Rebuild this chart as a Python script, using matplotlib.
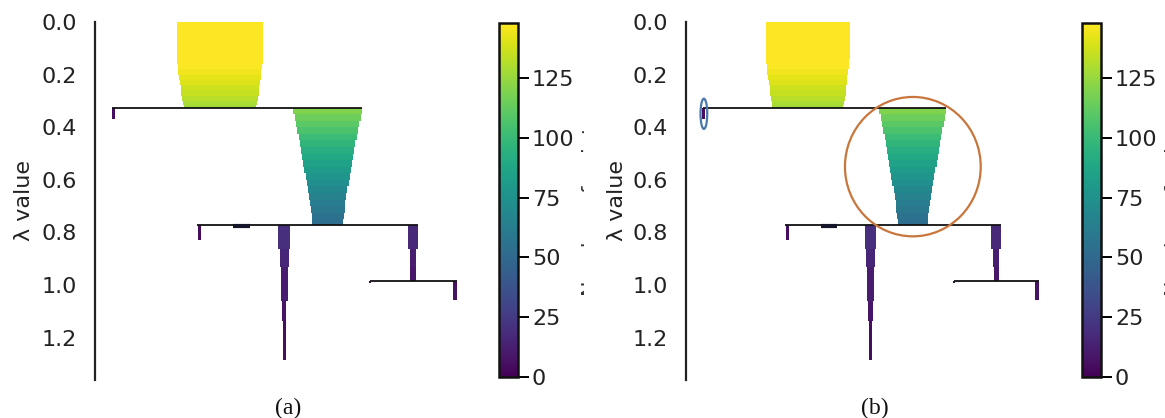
import matplotlib
matplotlib.use("Agg")
import matplotlib.pyplot as plt
import numpy as np
from matplotlib.colors import Normalize
from matplotlib.cm import ScalarMappable
from matplotlib.patches import Ellipse
from matplotlib.transforms import Bbox

# ---------------- data (condensed tree; x in "points" units, lambda on y) ----------------
root_x = 218
root_lam = [0.0, 0.14, 0.16, 0.18, 0.20, 0.22, 0.24, 0.26, 0.28, 0.30, 0.315, 0.328]
root_n = [150, 149, 147, 145, 142, 140, 137, 135, 132, 129, 127]

c1_x = 406
c1_lam = [0.328, 0.35, 0.375, 0.40, 0.425, 0.45, 0.475, 0.50, 0.525, 0.55, 0.575,
          0.60, 0.625, 0.65, 0.675, 0.70, 0.725, 0.75, 0.772]
c1_n = [120, 115, 110, 106, 101, 97, 93, 89, 85, 81, 77, 73, 69, 65, 62, 59, 56, 53]

leaf1_x = 32
leaf1_lam = [0.328, 0.37]
leaf1_n = [5]

leaf2_x = 182
leaf2_lam = [0.772, 0.83]
leaf2_n = [5]

c2_x = 330
c2_lam = [0.772, 0.865, 0.93, 1.06, 1.135, 1.285]
c2_n = [20, 16, 12, 8, 5]

c3_x = 555
c3_lam = [0.772, 0.865, 0.93, 0.985]
c3_n = [17, 12, 9]

leaf3_x = 480
leaf3_lam = [0.985, 0.993]
leaf3_n = [4]

c4_x = 629
c4_lam = [0.985, 1.057]
c4_n = [7]

split_lam = [0.328, 0.772, 0.985]
split_left = [30, 178, 480]
split_right = [466, 564, 632]

stub_x = [241, 271]
stub_lam = 0.776

cbar_ticks = [0, 25, 50, 75, 100, 125]
ytick_vals = [0.0, 0.2, 0.4, 0.6, 0.8, 1.0, 1.2]
n_max = 148

clusters = [(root_x, root_lam, root_n), (c1_x, c1_lam, c1_n),
            (leaf1_x, leaf1_lam, leaf1_n), (leaf2_x, leaf2_lam, leaf2_n),
            (c2_x, c2_lam, c2_n), (c3_x, c3_lam, c3_n),
            (leaf3_x, leaf3_lam, leaf3_n), (c4_x, c4_lam, c4_n)]

# ---------------- figure ----------------
W, H = 1165, 418
fig = plt.figure(figsize=(W / 100, H / 100), dpi=100)
cmap = plt.get_cmap("viridis")
norm = Normalize(vmin=0, vmax=n_max)

Y_TOP, PX_PER_LAM = 22.0, 263.0
LAM_MAX = 1.36
XMAX = 680


def draw_panel(spine_px, px_per_pt, cbar_px, label_px, caption_px, caption, annotate):
    bottom_px = Y_TOP + PX_PER_LAM * LAM_MAX
    ax = fig.add_axes([spine_px / W, (H - bottom_px) / H,
                       XMAX * px_per_pt / W, (bottom_px - Y_TOP) / H])
    for x, lam, n in clusters:
        for i in range(len(n)):
            ax.bar(x, lam[i + 1] - lam[i], bottom=lam[i], width=n[i],
                   color=cmap(norm(n[i])), linewidth=0, align="center", zorder=2)
    for lam, l, r in zip(split_lam, split_left, split_right):
        ax.plot([l, r], [lam, lam], color="#111111", lw=1.3, zorder=3,
                solid_capstyle="butt")
    ax.plot(stub_x, [stub_lam, stub_lam], color="#15152a", lw=3, zorder=3,
            solid_capstyle="butt")
    ax.set_xlim(0, XMAX)
    ax.set_ylim(LAM_MAX, 0)
    for s in ["top", "right", "bottom"]:
        ax.spines[s].set_visible(False)
    ax.spines["left"].set_linewidth(1.6)
    ax.spines["left"].set_color("#222222")
    ax.set_xticks([])
    ax.set_yticks(ytick_vals)
    ax.set_yticklabels([f"{v:.1f}" for v in ytick_vals])
    ax.tick_params(axis="y", length=0, pad=13, labelsize=16, labelcolor="#222222")
    fig.text(label_px / W, 1 - 200 / H, "λ value", rotation=90, ha="center",
             va="center", fontsize=16, color="#222222")

    if annotate:
        e1 = Ellipse((c1_x, (c1_lam[0] + c1_lam[-1]) / 2), 243, 0.53,
                     fill=False, edgecolor="#c9763d", lw=1.6, zorder=5, clip_on=False)
        ax.add_patch(e1)
        e2 = Ellipse((leaf1_x, (leaf1_lam[0] + leaf1_lam[-1]) / 2), 12, 0.115,
                     fill=False, edgecolor="#4a78ad", lw=1.6, zorder=5, clip_on=False)
        ax.add_patch(e2)

    cax = fig.add_axes([cbar_px / W, (H - 377) / H, 19 / W, (377 - 23) / H])
    cb = fig.colorbar(ScalarMappable(norm=norm, cmap=cmap), cax=cax, ticks=cbar_ticks)
    cb.outline.set_linewidth(1.8)
    cb.outline.set_edgecolor("#111111")
    cax.tick_params(length=8, width=1.4, labelsize=16, pad=2, labelcolor="#222222")
    t = fig.text((cbar_px + 83) / W, 1 - 205 / H, "Number of points", rotation=90,
                 ha="left", va="center", fontsize=15, color="#333333")
    t.set_clip_box(Bbox.from_extents(0, 0, min(cbar_px + 85, W), H))
    t.set_clip_on(True)

    fig.text(caption_px / W, 1 - 408 / H, caption, ha="center", va="center",
             fontsize=17, family="Liberation Serif", color="#111111")


draw_panel(95, 0.573, 499, 24, 288, "(a)", False)
draw_panel(686, 0.5587, 1082, 617, 875, "(b)", True)

fig.savefig("out.png", dpi=100)
